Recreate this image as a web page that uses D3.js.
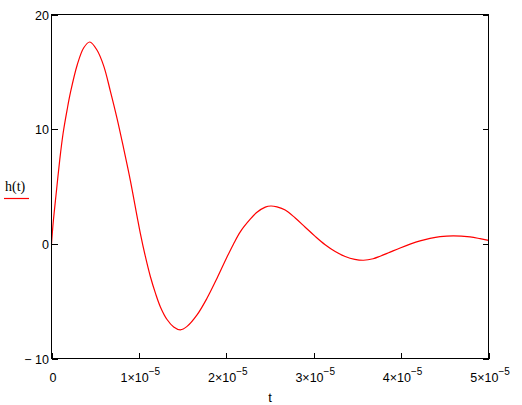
<!DOCTYPE html>
<html>
<head>
<meta charset="utf-8">
<script src="https://cdn.jsdelivr.net/npm/d3@7"></script>
<style>
  html, body { margin: 0; padding: 0; background: #fff; }
  svg { display: block; }
  text { font-family: Arial, "Liberation Sans", sans-serif; fill: #000; }
</style>
</head>
<body>
<svg id="chart" width="522" height="405"></svg>
<script>
// Data (t in seconds, h(t))
const tValues = [0, 0.02e-5, 0.055e-5, 0.094e-5, 0.132e-5, 0.179e-5, 0.217e-5, 0.294e-5, 0.369e-5, 0.438e-5,
  0.52e-5, 0.598e-5, 0.674e-5, 0.751e-5, 0.826e-5, 0.903e-5, 0.979e-5, 1.017e-5, 1.074e-5, 1.131e-5,
  1.189e-5, 1.246e-5, 1.322e-5, 1.398e-5, 1.475e-5, 1.551e-5, 1.665e-5, 1.779e-5, 1.894e-5, 2.008e-5,
  2.08e-5, 2.16e-5, 2.274e-5, 2.351e-5, 2.446e-5, 2.51e-5, 2.58e-5, 2.674e-5, 2.789e-5, 2.903e-5, 3.017e-5,
  3.131e-5, 3.246e-5, 3.36e-5, 3.47e-5, 3.57e-5, 3.68e-5, 3.76e-5, 3.874e-5, 3.989e-5, 4.103e-5, 4.217e-5,
  4.331e-5, 4.446e-5, 4.6e-5, 4.789e-5, 4.903e-5, 5.0e-5];
const hValues = [0, 1.9, 4.5, 7.3, 9.6, 11.7, 13.2, 15.6, 17.1, 17.6,
  16.9, 15.5, 13.3, 10.9, 8.3, 5.5, 2.4, 0.9, -1.1, -2.85,
  -4.3, -5.5, -6.6, -7.25, -7.5, -7.2, -6.2, -4.75, -3.0, -1.15,
  -0.05, 1.05, 2.15, 2.75, 3.2, 3.3, 3.22, 2.95, 2.25, 1.45, 0.65,
  -0.08, -0.67, -1.1, -1.35, -1.43, -1.3, -1.08, -0.72, -0.36, -0.03, 0.26,
  0.48, 0.63, 0.7, 0.6, 0.45, 0.3];
const xTicks = [0, 1e-5, 2e-5, 3e-5, 4e-5, 5e-5];
const xTickMantissa = ["0", "1", "2", "3", "4", "5"];
const yTicks = [-10, 0, 10, 20];
const yTickLabels = ["\u2212 10", "0", "10", "20"];
const xLabel = "t";
const yLabel = "h(t)";

const svg = d3.select("#chart");
const pLeft = 51.5, pRight = 488.5, pTop = 14.5, pBottom = 358.5;

const x = d3.scaleLinear().domain([0, 5e-5]).range([pLeft, pRight]);
const y = d3.scaleLinear().domain([-10, 20]).range([pBottom, pTop]);

// Curve
const data = tValues.map((t, i) => ({ t, h: hValues[i] }));
const line = d3.line().x(d => x(d.t)).y(d => y(d.h)).curve(d3.curveCatmullRom.alpha(0.5));
svg.append("path").datum(data)
  .attr("d", line)
  .attr("fill", "none")
  .attr("stroke", "#ff0000")
  .attr("stroke-width", 1.2);

// Frame
svg.append("rect")
  .attr("x", pLeft).attr("y", pTop)
  .attr("width", pRight - pLeft).attr("height", pBottom - pTop)
  .attr("fill", "none").attr("stroke", "#000").attr("stroke-width", 1.2)
  .attr("shape-rendering", "crispEdges");

// Axes with inward ticks
const xAxis = d3.axisTop(x).tickValues(xTicks).tickSize(6).tickFormat("");
svg.append("g").attr("transform", `translate(0,${pBottom})`).call(xAxis)
  .call(g => g.select(".domain").remove())
  .selectAll("line").attr("stroke", "#000").attr("shape-rendering", "crispEdges");

const yAxisL = d3.axisRight(y).tickValues(yTicks).tickSize(6).tickFormat("");
svg.append("g").attr("transform", `translate(${pLeft},0)`).call(yAxisL)
  .call(g => g.select(".domain").remove())
  .selectAll("line").attr("stroke", "#000").attr("shape-rendering", "crispEdges");

const yAxisR = d3.axisLeft(y).tickValues(yTicks).tickSize(6).tickFormat("");
svg.append("g").attr("transform", `translate(${pRight},0)`).call(yAxisR)
  .call(g => g.select(".domain").remove())
  .selectAll("line").attr("stroke", "#000").attr("shape-rendering", "crispEdges");

// Y tick labels
svg.append("g").selectAll("text").data(yTicks).join("text")
  .attr("x", pLeft - 2.5)
  .attr("y", d => y(d) + 5)
  .attr("text-anchor", "end")
  .attr("font-size", "12.5px")
  .text((d, i) => yTickLabels[i]);

// X tick labels
const xl = svg.append("g").selectAll("text").data(xTicks).join("text")
  .attr("y", pBottom + 23)
  .attr("font-size", "12.5px")
  .attr("text-anchor", "middle")
  .attr("x", d => x(d) + 1.5);
xl.each(function (d, i) {
  const t = d3.select(this);
  if (i === 0) { t.text(xTickMantissa[i]); return; }
  t.append("tspan").text(xTickMantissa[i] + "\u00d710");
  t.append("tspan").attr("dy", -7).attr("font-size", "10px").text("\u2212" + "5");
});

// Axis titles
svg.append("text")
  .attr("x", (pLeft + pRight) / 2).attr("y", pBottom + 43)
  .attr("text-anchor", "middle").attr("font-size", "13px")
  .text(xLabel);

svg.append("text")
  .attr("x", 5).attr("y", 191)
  .style("font-family", "'Liberation Serif', 'Times New Roman', serif")
  .attr("font-size", "14px")
  .text(yLabel);
svg.append("line")
  .attr("x1", 4).attr("x2", 29).attr("y1", 198.5).attr("y2", 198.5)
  .attr("stroke", "#ff0000").attr("stroke-width", 1.2);
</script>
</body>
</html>
